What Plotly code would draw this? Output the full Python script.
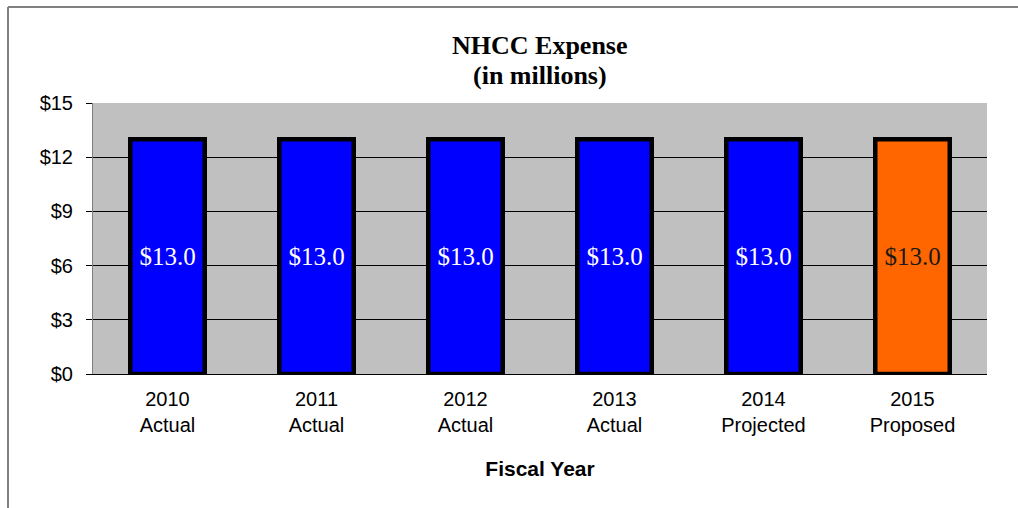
import plotly.graph_objects as go

categories = ["2010<br>Actual", "2011<br>Actual", "2012<br>Actual", "2013<br>Actual",
              "2014<br>Projected", "2015<br>Proposed"]
values = [13.0, 13.0, 13.0, 13.0, 13.0, 13.0]
bar_colors = ["#0000FF", "#0000FF", "#0000FF", "#0000FF", "#0000FF", "#FF6600"]
label_colors = ["white", "white", "white", "white", "white", "#1a1a1a"]
y_ticks = [0, 3, 6, 9, 12, 15]
y_tick_labels = ["$0", "$3", "$6", "$9", "$12", "$15"]
title_lines = ["NHCC Expense", "(in millions)"]

fig = go.Figure(go.Bar(
    x=categories, y=values,
    marker=dict(color=bar_colors, line=dict(color="black", width=4.5)),
    text=[f"${v:.1f}" for v in values],
    textposition="inside", insidetextanchor="middle",
    textfont=dict(family="Liberation Serif", size=25, color=label_colors),
    width=0.5,
))

ML, MR, MT, MB = 93, 31, 103, 134
W, H = 1018, 508
pw, ph = W - ML - MR, H - MT - MB

annotations = []
for i, line in enumerate(title_lines):
    ypix = 45 + 30 * i
    annotations.append(dict(
        text=f"<b>{line}</b>", xref="paper", yref="paper",
        x=0.5, xanchor="center", y=1 + (MT - ypix) / ph, yanchor="middle",
        showarrow=False,
        font=dict(family="Liberation Serif", size=26, color="black"),
    ))

fig.update_layout(
    width=W, height=H,
    margin=dict(l=ML, r=MR, t=MT, b=MB),
    paper_bgcolor="white", plot_bgcolor="#C0C0C0",
    showlegend=False,
    annotations=annotations,
    xaxis=dict(
        tickfont=dict(family="Liberation Sans", size=20, color="black"),
        showgrid=False, showline=True, linecolor="black", linewidth=1,
        ticks="", ticklabelstandoff=7,
        title=dict(text="<b>Fiscal Year</b>",
                   font=dict(family="Liberation Sans", size=21, color="black"),
                   standoff=26),
    ),
    yaxis=dict(
        range=[0, 15], tickvals=y_ticks, ticktext=y_tick_labels,
        tickfont=dict(family="Liberation Sans", size=20, color="black"),
        showgrid=True, gridcolor="black", gridwidth=1,
        showline=True, linecolor="#808080", linewidth=1,
        ticks="outside", ticklen=6, tickcolor="black", zeroline=False,
        ticklabelstandoff=9,
    ),
    shapes=[
        dict(type="line", xref="paper", yref="paper",
             x0=(8 - ML) / pw, x1=(1030 - ML) / pw,
             y0=1 + (MT - 7) / ph, y1=1 + (MT - 7) / ph,
             line=dict(color="#808080", width=2)),
        dict(type="line", xref="paper", yref="paper",
             x0=(8 - ML) / pw, x1=(8 - ML) / pw,
             y0=1 + (MT - 7) / ph, y1=-(MB + 20) / ph,
             line=dict(color="#808080", width=2)),
    ],
)

fig.write_html("out.html")
